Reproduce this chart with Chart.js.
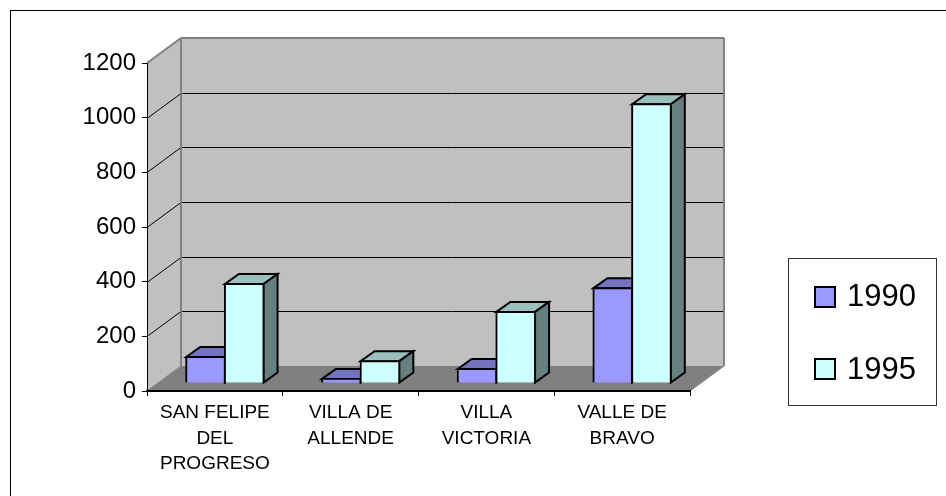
<!DOCTYPE html>
<html>
<head>
<meta charset="utf-8">
<style>
html, body { margin: 0; padding: 0; background: #fff; overflow: hidden; }
#wrap { position: relative; width: 946px; height: 496px; }
</style>
<script src="https://cdn.jsdelivr.net/npm/chart.js@4"></script>
</head>
<body>
<div id="wrap"><canvas id="chart"></canvas></div>
<script>
var categories = [['SAN FELIPE', 'DEL', 'PROGRESO'], ['VILLA DE', 'ALLENDE'], ['VILLA', 'VICTORIA'], ['VALLE DE', 'BRAVO']];
var values1990 = [95, 15, 51, 347];
var values1995 = [362, 80, 260, 1020];
var seriesNames = ['1990', '1995'];

var frontColors = ['#9999ff', '#ccffff'];
var topColors = ['#7373bf', '#99bfbf'];
var sideColors = ['#4d4d80', '#668080'];

// how far the back wall sits from the front of the plot
var wallDx = 34, wallDy = -25;
// bars stand in the middle of the floor
var barDx = 10, barDy = -8;
// bar depth
var depthDx = 14, depthDy = -10;

function poly(ctx, pts, fill, stroke, lw) {
    ctx.beginPath();
    ctx.moveTo(pts[0][0], pts[0][1]);
    for (var i = 1; i < pts.length; i++) ctx.lineTo(pts[i][0], pts[i][1]);
    ctx.closePath();
    if (fill) { ctx.fillStyle = fill; ctx.fill(); }
    if (stroke) { ctx.strokeStyle = stroke; ctx.lineWidth = lw; ctx.stroke(); }
}

function line(ctx, x1, y1, x2, y2, color, lw) {
    ctx.beginPath();
    ctx.moveTo(x1, y1);
    ctx.lineTo(x2, y2);
    ctx.strokeStyle = color;
    ctx.lineWidth = lw;
    ctx.stroke();
}

var walls = {
    id: 'walls',
    beforeDraw: function(chart) {
        var ctx = chart.ctx, a = chart.chartArea, y = chart.scales.y;
        ctx.save();
        // outer frame, right and bottom sides fall outside the picture
        ctx.strokeStyle = '#000';
        ctx.lineWidth = 1;
        ctx.strokeRect(10.5, 10.5, 960, 510);

        var l = a.left, r = a.right, t = a.top, b = a.bottom;
        // back wall, left wall, floor
        poly(ctx, [[l + wallDx, t + wallDy], [r + wallDx, t + wallDy], [r + wallDx, b + wallDy], [l + wallDx, b + wallDy]], '#c0c0c0');
        poly(ctx, [[l, t], [l + wallDx, t + wallDy], [l + wallDx, b + wallDy], [l, b]], '#c0c0c0');
        poly(ctx, [[l, b], [l + wallDx, b + wallDy], [r + wallDx, b + wallDy], [r, b]], '#808080');

        // grid lines follow the value axis round the two walls
        y.ticks.forEach(function(tick) {
            var py = Math.round(y.getPixelForValue(tick.value)) + 0.5;
            if (tick.value > 0 && tick.value < y.max) {
                line(ctx, l, py, l + wallDx, py + wallDy, '#000', 1);
                line(ctx, l + wallDx, py + wallDy, r + wallDx, py + wallDy, '#000', 1);
            }
        });

        // wall edges
        line(ctx, l, t, l + wallDx, t + wallDy, '#808080', 2);
        line(ctx, l + wallDx, t + wallDy, r + wallDx, t + wallDy, '#808080', 2);
        line(ctx, l + wallDx, t + wallDy, l + wallDx, b + wallDy, '#808080', 2);
        line(ctx, r + wallDx, t + wallDy, r + wallDx, b + wallDy, '#808080', 2);
        line(ctx, r, b, r + wallDx, b + wallDy, '#808080', 1);
        line(ctx, l, b, l + wallDx, b + wallDy, '#808080', 1);
        ctx.restore();
    },
    // bars go left to right so 1995 covers the side of 1990
    beforeDatasetsDraw: function(chart) {
        var ctx = chart.ctx;
        ctx.save();
        ctx.translate(barDx, barDy);
        chart.data.datasets.forEach(function(ds, i) {
            var meta = chart.getDatasetMeta(i);
            meta.data.forEach(function(bar) {
                var x1 = bar.x - bar.width / 2, x2 = bar.x + bar.width / 2;
                poly(ctx, [[x1, bar.y], [x1 + depthDx, bar.y + depthDy], [x2 + depthDx, bar.y + depthDy], [x2, bar.y]], topColors[i], '#000', 2);
                poly(ctx, [[x2, bar.y], [x2 + depthDx, bar.y + depthDy], [x2 + depthDx, bar.base + depthDy], [x2, bar.base]], sideColors[i], '#000', 2);
            });
            meta.controller.draw();
        });
        ctx.restore();
        return false;
    },
    afterDraw: function(chart) {
        var ctx = chart.ctx;
        // legend
        ctx.save();
        ctx.strokeStyle = '#333';
        ctx.lineWidth = 1;
        ctx.strokeRect(788.5, 258.5, 148, 147);
        ctx.font = '31px "Liberation Sans"';
        ctx.textBaseline = 'middle';
        chart.data.datasets.forEach(function(ds, i) {
            var cy = 297 + i * 72;
            ctx.fillStyle = frontColors[i];
            ctx.fillRect(815, cy - 10, 20, 20);
            ctx.strokeStyle = '#000';
            ctx.lineWidth = 2;
            ctx.strokeRect(815, cy - 10, 20, 20);
            ctx.fillStyle = '#000';
            ctx.fillText(ds.label, 847, cy + i);
        });
        ctx.restore();
    }
};

new Chart(document.getElementById('chart'), {
    type: 'bar',
    data: {
        labels: categories,
        datasets: [
            { label: seriesNames[0], data: values1990, backgroundColor: frontColors[0], borderColor: '#000', borderWidth: 2, inflateAmount: 1 },
            { label: seriesNames[1], data: values1995, backgroundColor: frontColors[1], borderColor: '#000', borderWidth: 2, inflateAmount: 1 }
        ]
    },
    options: {
        responsive: true,
        maintainAspectRatio: false,
        animation: false,
        layout: { padding: { left: 20, top: 63, right: 256, bottom: 10 } },
        datasets: { bar: { barPercentage: 1, categoryPercentage: 0.57 } },
        plugins: { legend: { display: false }, tooltip: { enabled: false } },
        scales: {
            x: {
                afterFit: function(scale) { scale.height = 95; },
                grid: { drawOnChartArea: false, color: '#000', tickLength: 5, offset: true },
                border: { color: '#000', width: 2 },
                ticks: {
                    color: '#000',
                    font: { family: '"Liberation Sans"', size: 19, lineHeight: 1.35 },
                    maxRotation: 0,
                    autoSkip: false,
                    padding: 4
                }
            },
            y: {
                min: 0,
                max: 1200,
                afterFit: function(scale) { scale.width = 127; },
                grid: { drawOnChartArea: false, color: '#000', tickLength: 5 },
                border: { color: '#000', width: 1 },
                ticks: {
                    stepSize: 200,
                    color: '#000',
                    font: { family: '"Liberation Sans"', size: 24 },
                    padding: 6,
                    callback: function(value) { return String(value); }
                }
            }
        }
    },
    plugins: [walls]
});
</script>
</body>
</html>
